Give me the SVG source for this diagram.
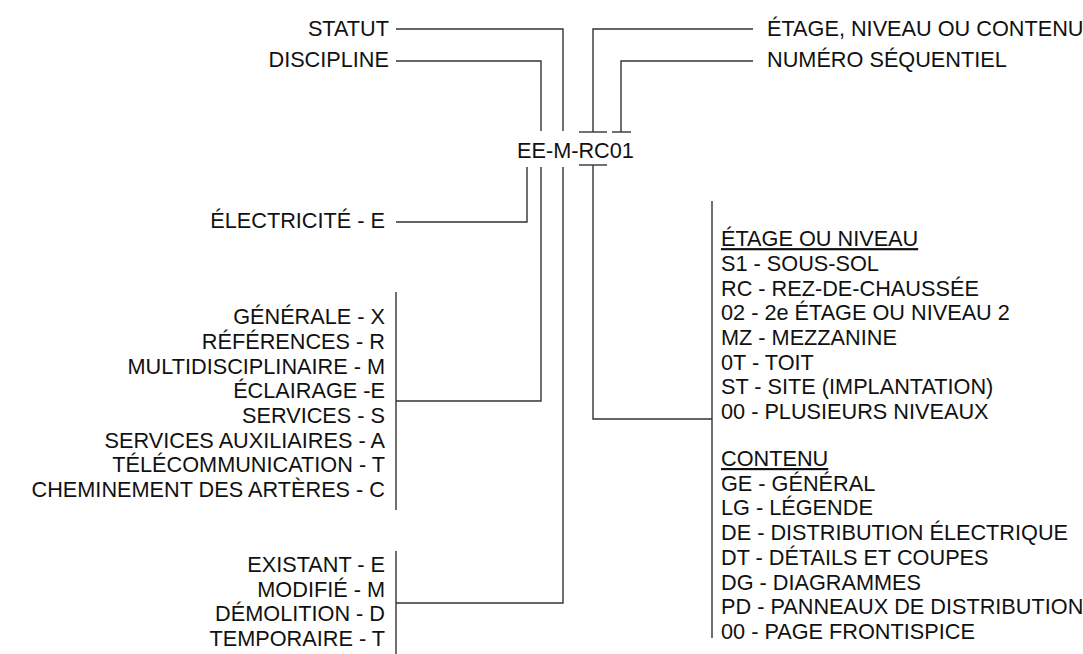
<svg xmlns="http://www.w3.org/2000/svg" width="1083" height="654" viewBox="0 0 1083 654">
<style>
text{font-family:"Liberation Sans",Arial,Helvetica,sans-serif;font-size:21.7px;fill:#111}
.r{text-anchor:end}
.u{text-decoration:underline}
.c line,.c polyline{stroke:#333;stroke-width:1.4;fill:none}
</style>
<rect width="1083" height="654" fill="#fff"/>
<g class="c" id="connectors">
<polyline points="396,29 563,29 563,131"/>
<polyline points="396,61 541,61 541,131"/>
<polyline points="753,29 593,29 593,132"/>
<polyline points="753,61 621,61 621,132"/>
<line x1="579" y1="132" x2="607" y2="132"/>
<line x1="612" y1="132" x2="631" y2="132"/>
<line x1="579" y1="165" x2="607" y2="165"/>
<polyline points="527,167 527,222 396,222"/>
<polyline points="541,167 541,401 396,401"/>
<polyline points="563,167 563,603 396,603"/>
<polyline points="593,165 593,419 712,419"/>
<line x1="396" y1="292" x2="396" y2="510"/>
<line x1="396" y1="551" x2="396" y2="654"/>
<line x1="712" y1="201" x2="712" y2="638"/>
</g>
<g id="code"><text x="517" y="158">EE-M-RC01</text></g>
<g id="statut"><text class="r" x="389" y="36">STATUT</text></g>
<g id="discipline"><text class="r" x="389" y="67">DISCIPLINE</text></g>
<g id="etage-label"><text x="767" y="36">ÉTAGE, NIVEAU OU CONTENU</text></g>
<g id="numero"><text x="767" y="67">NUMÉRO SÉQUENTIEL</text></g>
<g id="electricite"><text class="r" x="385" y="228">ÉLECTRICITÉ - E</text></g>
<g id="sous-disciplines">
<text class="r" x="385" y="324.1">GÉNÉRALE - X</text>
<text class="r" x="385" y="348.8">RÉFÉRENCES - R</text>
<text class="r" x="385" y="373.5">MULTIDISCIPLINAIRE - M</text>
<text class="r" x="385" y="398.2">ÉCLAIRAGE -E</text>
<text class="r" x="385" y="422.9">SERVICES - S</text>
<text class="r" x="385" y="447.6">SERVICES AUXILIAIRES - A</text>
<text class="r" x="385" y="472.3">TÉLÉCOMMUNICATION - T</text>
<text class="r" x="385" y="497">CHEMINEMENT DES ARTÈRES - C</text>
</g>
<g id="statuts">
<text class="r" x="385" y="572">EXISTANT - E</text>
<text class="r" x="385" y="596.7">MODIFIÉ - M</text>
<text class="r" x="385" y="621.4">DÉMOLITION - D</text>
<text class="r" x="385" y="646.1">TEMPORAIRE - T</text>
</g>
<g id="etages">
<text class="u" x="721" y="246.1">ÉTAGE OU NIVEAU</text>
<text x="721" y="270.8">S1 - SOUS-SOL</text>
<text x="721" y="295.5">RC - REZ-DE-CHAUSSÉE</text>
<text x="721" y="320.2">02 - 2e ÉTAGE OU NIVEAU 2</text>
<text x="721" y="344.9">MZ - MEZZANINE</text>
<text x="721" y="369.6">0T - TOIT</text>
<text x="721" y="394.3">ST - SITE (IMPLANTATION)</text>
<text x="721" y="419">00 - PLUSIEURS NIVEAUX</text>
</g>
<g id="contenu">
<text class="u" x="721" y="466">CONTENU</text>
<text x="721" y="490.7">GE - GÉNÉRAL</text>
<text x="721" y="515.4">LG - LÉGENDE</text>
<text x="721" y="540.1">DE - DISTRIBUTION ÉLECTRIQUE</text>
<text x="721" y="564.8">DT - DÉTAILS ET COUPES</text>
<text x="721" y="589.5">DG - DIAGRAMMES</text>
<text x="721" y="614.2">PD - PANNEAUX DE DISTRIBUTION</text>
<text x="721" y="638.9">00 - PAGE FRONTISPICE</text>
</g>
</svg>
